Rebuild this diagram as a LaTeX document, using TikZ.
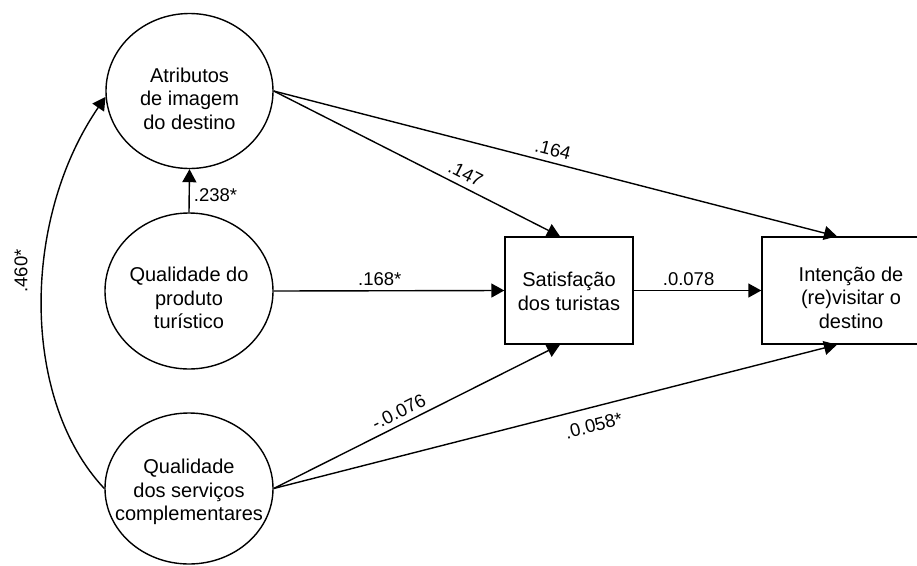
\documentclass[tikz,border=0pt]{standalone}
\usepackage{fontspec}
\setmainfont{Liberation Sans}
\usetikzlibrary{shapes.geometric,arrows.meta}
\begin{document}
\begin{tikzpicture}[x=1pt,y=-1pt,
  latent/.style={ellipse,draw,line width=1.4pt,inner sep=0pt},
  obs/.style={rectangle,draw,line width=1.4pt,inner sep=0pt},
  txt/.style={align=center,font=\fontsize{20}{23.5}\selectfont,inner sep=0pt},
  coef/.style={font=\fontsize{18.5}{20}\selectfont,inner sep=0pt},
  pathway/.style={line width=1.4pt,-{Triangle[length=13pt,width=14pt]}}]
\clip (0,0) rectangle (917,565);
% latent constructs
\node[latent,minimum width=167pt,minimum height=155pt] (atr) at (189.5,91) {};
\node[latent,minimum width=168pt,minimum height=156pt] (qp) at (189,291) {};
\node[latent,minimum width=168pt,minimum height=151pt] (qs) at (189,488.5) {};
% observed boxes
\node[obs,minimum width=128pt,minimum height=107pt] (sat) at (569,290.5) {};
\node[obs,minimum width=178pt,minimum height=107pt] (int) at (851,290.5) {};
% texts
\node[txt] (atrT) at (189.5,98.5) {Atributos\\de imagem\\do destino};
\node[txt] (qpT) at (189,298) {Qualidade do\\produto\\turístico};
\node[txt] (qsT) at (189,492) {Qualidade\\dos serviços\\complementares};
\node[txt] (satT) at (569,291.5) {Satisfação\\dos turistas};
\node[txt] (intT) at (851,297.5) {Intenção de\\(re)visitar o\\destino};
% paths
\draw[pathway] (qp.north) -- node[coef,pos=0.4,right=4pt]{.238*} (atr.south);
\draw[pathway] (atr.east) -- node[coef,pos=0.65,sloped,above=6pt]{.147} ([xshift=-9pt]sat.north);
\draw[pathway] (atr.east) -- node[coef,pos=0.49,sloped,above=5.7pt]{.164} ([xshift=-14pt]int.north);
\draw[pathway] (qp.east) -- node[coef,pos=0.46,above=4.4pt]{.168*} (sat.west);
\draw[pathway] (sat.east) -- node[coef,pos=0.43,above=4.4pt]{.0.078} (int.west);
\draw[pathway] (qs.east) -- node[coef,pos=0.456,sloped,above=5pt]{-.0.076} ([xshift=-9pt]sat.south);
\draw[pathway] (qs.east) -- node[coef,pos=0.56,sloped,below=11pt]{.0.058*} ([xshift=-14pt]int.south);
\draw[pathway] (qs.west) .. controls (21,400) and (21,220) .. (atr.184);
\node[coef,rotate=90] (l460) at (21,271) {.460*};
\end{tikzpicture}
\end{document}
